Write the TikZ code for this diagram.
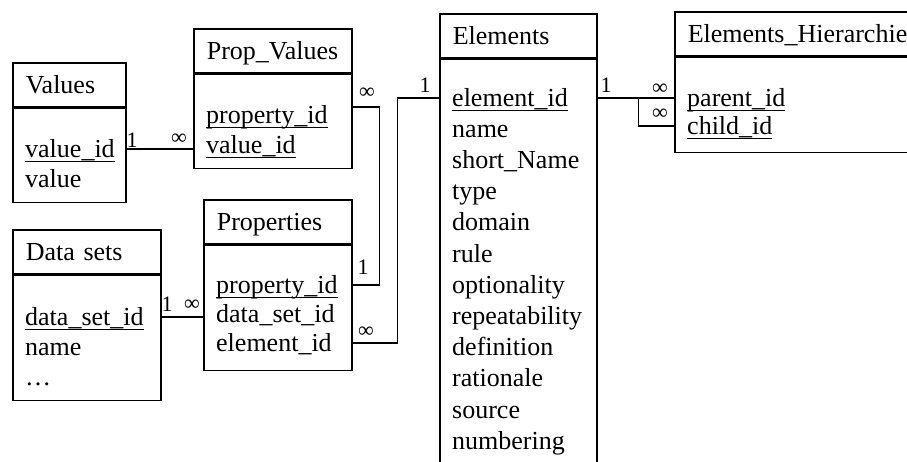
\documentclass[tikz,border=0pt]{standalone}
\usepackage{fontspec}
\setmainfont{Liberation Serif}
\usetikzlibrary{positioning}

% underlined key field
\newcommand{\pkey}[1]{\setbox0\hbox{#1}\rlap{\rule[-5pt]{\wd0}{0.9pt}}\box0}

\tikzset{
	tbl/.style={draw, line width=1.6pt, anchor=north west, inner sep=0pt},
	tblhead/.style={tbl, text height=31pt, text depth=13pt, align=left, inner xsep=13pt},
	field/.style={anchor=base west, inner sep=0pt, text height=19pt, text depth=3pt},
	card/.style={font=\fontsize{22}{22}\selectfont, inner sep=0pt},
	link/.style={line width=1.6pt}
}

\begin{document}
\begin{tikzpicture}[x=1pt, y=-1pt, font=\fontsize{26}{31}\selectfont]
\useasboundingbox (0,0) rectangle (907,461);

% Values
\node[tblhead, text width=87pt] (values) at (12,62) {Values};
\node[tbl, minimum width=113pt, minimum height=94pt, below=0pt of values] (values-body) {};
\foreach \f [count=\i] in {\pkey{value\_id}, value}
	\node[field] (values-\i) at (25,{157+30*(\i-1)}) {\f};

% Prop_Values
\node[tblhead, text width=132pt] (pv) at (193,28) {Prop\_Values};
\node[tbl, minimum width=158pt, minimum height=94pt, below=0pt of pv] (pv-body) {};
\foreach \f [count=\i] in {\pkey{property\_id}, \pkey{value\_id}}
	\node[field] (pv-\i) at (206,{123+30*(\i-1)}) {\f};

% Data sets
\node[tblhead, text width=122pt] (ds) at (12,229) {Data sets};
\node[tbl, minimum width=148pt, minimum height=125pt, below=0pt of ds] (ds-body) {};
\foreach \f [count=\i] in {\pkey{data\_set\_id}, name, \ldots}
	\node[field] (ds-\i) at (25,{325+30*(\i-1)}) {\f};

% Properties
\node[tblhead, text width=122pt] (props) at (203,199) {Properties};
\node[tbl, minimum width=148pt, minimum height=125pt, below=0pt of props] (props-body) {};
\foreach \f [count=\i] in {\pkey{property\_id}, data\_set\_id, element\_id}
	\node[field] (props-\i) at (216,{293+29*(\i-1)}) {\f};

% Elements (runs off the bottom)
\node[tblhead, text width=131pt] (el) at (439,13) {Elements};
\node[tbl, minimum width=157pt, minimum height=443pt, below=0pt of el] (el-body) {};
\foreach \f [count=\i] in {\pkey{element\_id}, name, short\_Name, type, domain, rule,
		optionality, repeatability, definition, rationale, source, numbering}
	\node[field] (el-\i) at (452,{106+31.2*(\i-1)}) {\f};

% Elements_Hierarchie (runs off the right)
\node[tblhead, text width=214pt] (hier) at (674,11) {Elements\_Hierarchie};
\node[tbl, minimum width=240pt, minimum height=95pt, below=0pt of hier] (hier-body) {};
\foreach \f [count=\i] in {\pkey{parent\_id}, \pkey{child\_id}}
	\node[field] (hier-\i) at (687,{106+28*(\i-1)}) {\f};

% relations
\draw[link] (values-1 -| values-body.east) -- (values-1 -| pv-body.west);
\draw[link] (ds-1 -| ds-body.east) -- (ds-1 -| props-body.west);
\draw[link] (props-1 -| props-body.east) -- ++(27,0) |- ([yshift=8pt]pv-1.center -| pv-body.east);
\draw[link] (props-3 -| props-body.east) -- ++(45,0) |- (el-1 -| el-body.west);
\draw[link] (el-1 -| el-body.east) -- (el-1 -| hier-body.west);
\draw[link] (el-1 -| el-body.east) ++(41,0) |- (hier-2 -| hier-body.west);

% cardinalities
\node[card] (c-values) at (132,140) {1};
\node[card] (c-pvval) at (179,139) {∞};
\node[card] (c-ds) at (167,304) {1};
\node[card] (c-propds) at (192,305) {∞};
\node[card] (c-pvprop) at (367,93) {∞};
\node[card] (c-prop) at (363,267) {1};
\node[card] (c-propel) at (366,332) {∞};
\node[card] (c-elin) at (425,85) {1};
\node[card] (c-elout) at (606,85) {1};
\node[card] (c-parent) at (660,89) {∞};
\node[card] (c-child) at (660,114) {∞};

\end{tikzpicture}
\end{document}
